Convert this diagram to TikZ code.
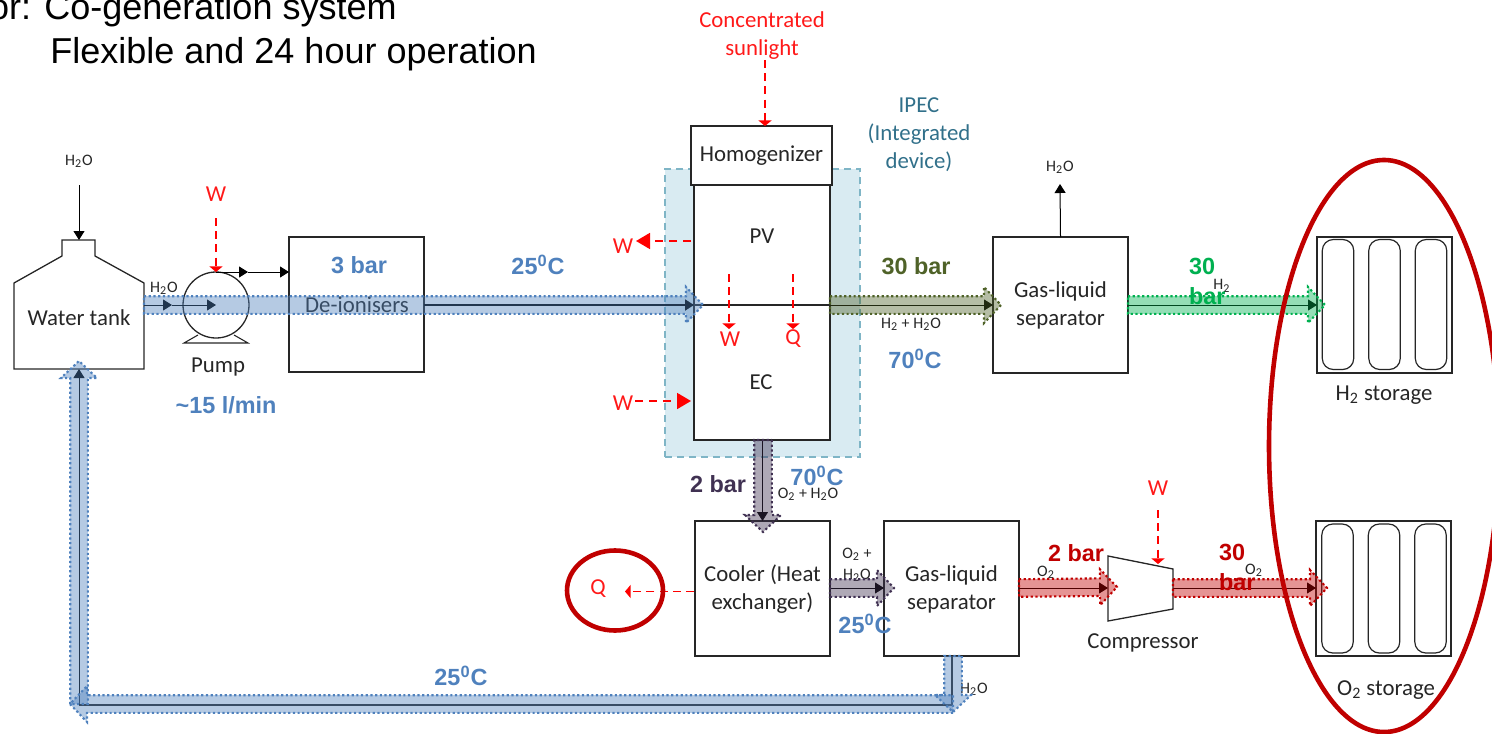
\documentclass[tikz,border=0pt]{standalone}
\usepackage{fontspec}
\setmainfont{Carlito}
\newfontfamily\arialf{Liberation Sans}
\usetikzlibrary{calc,arrows.meta,shapes.geometric}
\definecolor{blueT}{HTML}{4F81BD}
\definecolor{oliveT}{HTML}{4F6228}
\definecolor{greenT}{HTML}{00B050}
\definecolor{purpleT}{HTML}{403152}
\definecolor{redT}{HTML}{C00000}
\definecolor{ipecFill}{HTML}{D9EBF2}
\definecolor{ipecLine}{HTML}{7FB5C6}
\definecolor{ipecText}{HTML}{31708A}
\definecolor{inkT}{HTML}{262626}
\newcommand{\bandarrow}[3]{%
  \coordinate (neck) at ($(#3)!8.5pt!(#2)$);
  \draw[line width=1.05pt,dash pattern=on 1.1pt off 1.25pt,draw=#1,fill=#1,fill opacity=.42]
    ($(#2)!4.4pt!90:(#3)$) -- ($(neck)!4.4pt!90:(#3)$) -- ($(neck)!9pt!90:(#3)$) -- (#3)
    -- ($(neck)!9pt!-90:(#3)$) -- ($(neck)!4.4pt!-90:(#3)$) -- ($(#2)!4.4pt!-90:(#3)$) -- cycle;}
\tikzset{
  lab/.style={inner sep=0pt,outer sep=0pt,text=inkT,font=\fontsize{11.4}{14}\selectfont,align=center},
  small/.style={inner sep=0pt,outer sep=0pt,text=inkT,font=\fontsize{8}{10.5}\selectfont,align=center},
  redlab/.style={inner sep=0pt,outer sep=0pt,text=red!90!white,font=\fontsize{11.4}{14}\selectfont,align=center},
  bold/.style={inner sep=0pt,outer sep=0pt,font=\arialf\bfseries\fontsize{11.7}{15}\selectfont,align=left},
  box/.style={draw=inkT,line width=.65pt,fill=white,inner sep=0pt,outer sep=0pt},
  cyl/.style={draw=inkT,line width=.6pt,rounded corners=5.5pt,inner sep=0pt,outer sep=0pt,minimum width=15.7pt},
  flow/.style={draw=black,line width=.5pt,-{Triangle[length=4.5pt,width=5.5pt]}},
  plain/.style={draw=inkT,line width=.55pt},
  work/.style={draw=red,line width=.7pt,dash pattern=on 4pt off 2.6pt,-{Triangle[length=2.8pt,width=6.5pt]}},
  workB/.style={draw=red,line width=.9pt,dash pattern=on 4pt off 3pt,-{Triangle[length=7pt,width=8pt]}},
  ring/.style={draw=redT,line width=2.3pt}
}
\begin{document}
\begin{tikzpicture}[x=0.5pt,y=-0.5pt]
\useasboundingbox (0,0) rectangle (1492,733);
\clip (0,0) rectangle (1492,733);
% header text
\node[anchor=base east,inner sep=0pt,font=\arialf\fontsize{18}{20}\selectfont] (head1) at (397,20) {or: Co-generation system};
\node[anchor=base west,inner sep=0pt,font=\arialf\fontsize{18}{20}\selectfont] (head2) at (50,63.5) {Flexible and 24 hour operation};
% IPEC background
\node[draw=ipecLine,fill=ipecFill,dash pattern=on 3.5pt off 2.5pt,line width=.55pt,minimum width=97.5pt,minimum height=144pt,inner sep=0pt] (ipec) at (762.5,313) {};
\node[lab,text=ipecText] (ipect) at (919,135) {IPEC\\(Integrated\\device)};
% boxes
\node[box,minimum width=68pt,minimum height=127.5pt] (cell) at (762,312.5) {};
\node[box,minimum width=70.5pt,minimum height=29.5pt] (homog) at (761.5,155.5) {};
\node[lab] (homogt) at (761.5,156) {Homogenizer};
\node[lab] (pv) at (762,236) {PV};
\node[lab] (ec) at (761,382) {EC};
\node[box,minimum width=67.5pt,minimum height=67.5pt] (dei) at (356.5,304.5) {};
\node[lab] (deit) at (357,305) {De-ionisers};
\node[box,minimum width=67.5pt,minimum height=68pt] (sep1) at (1060.5,305) {};
\node[lab] (sep1t) at (1060.5,305.5) {Gas-liquid\\separator};
\node[box,minimum width=67.5pt,minimum height=67.5pt] (cooler) at (762.5,588.5) {};
\node[lab] (coolert) at (762.5,589.5) {Cooler (Heat\\exchanger)};
\node[box,minimum width=67.5pt,minimum height=67.5pt] (sep2) at (951.5,588.5) {};
\node[lab] (sep2t) at (951.5,589.5) {Gas-liquid\\separator};
\node[box,minimum width=67.5pt,minimum height=68pt] (hstore) at (1384.5,305) {};
\node[box,minimum width=67.5pt,minimum height=67.5pt] (ostore) at (1383.5,588.5) {};
\foreach \n/\cx in {ha/1338,hb/1384.5,hc/1431}{\node[cyl,minimum height=65pt] (\n) at (\cx,304.5) {};}
\foreach \n/\cx in {oa/1337.5,ob/1384,oc/1430.5}{\node[cyl,minimum height=64.5pt] (\n) at (\cx,588.5) {};}
\node[lab] (hstoret) at (1384,395) {H\textsubscript{2} storage};
\node[lab] (ostoret) at (1386,690) {O\textsubscript{2} storage};
% water tank
\coordinate (tA) at (14,369); \coordinate (tB) at (14,283); \coordinate (tC) at (62,256);
\coordinate (tD) at (62,240); \coordinate (tE) at (95,240); \coordinate (tF) at (95,256);
\coordinate (tG) at (144,283); \coordinate (tH) at (144,369);
\draw[plain,line width=.65pt] (tA) -- (tB) -- (tC) -- (tD) -- (tE) -- (tF) -- (tG) -- (tH) -- cycle;
\node[lab] (tank) at (79,318) {Water tank};
% pump
\node[draw=inkT,line width=.65pt,circle,minimum size=33pt,inner sep=0pt,outer sep=0pt] (pump) at (216,305) {};
\coordinate (pA) at (198,335); \coordinate (pB) at (184,343); \coordinate (pC) at (248,343); \coordinate (pD) at (234,335);
\draw[plain] (pA) -- (pB) -- (pC) -- (pD);
\node[lab] (pumpt) at (218,367) {Pump};
% compressor
\coordinate (cA) at (1108,556); \coordinate (cB) at (1173,569); \coordinate (cC) at (1173,609); \coordinate (cD) at (1108,621);
\draw[plain,line width=.65pt] (cA) -- (cB) -- (cC) -- (cD) -- cycle;
\node[lab] (compt) at (1143,643) {Compressor};
% free ends
\coordinate (tankIn) at (79,185); \coordinate (tankR) at (144,305);
\coordinate (tankRm) at (172,305); \coordinate (pumpC) at (216,305);
\coordinate (pumpMid) at (248,272);
\coordinate (cellL) at (694,305); \coordinate (cellR) at (830,305); \coordinate (sep1L) at (993,305);
\coordinate (deiR) at (424,305); \coordinate (sep1R) at (1128,305); \coordinate (hsL) at (1317,305);
\coordinate (sep1Up) at (1060,184);
\coordinate (sep2B) at (952,656); \coordinate (corner) at (952,705); \coordinate (cornerL) at (79,705);
\coordinate (tankB) at (79,369);
\coordinate (coolR) at (830,588); \coordinate (sep2L) at (884,588);
\coordinate (sep2R) at (1019,588); \coordinate (compL) at (1108,588); \coordinate (compR) at (1173,588); \coordinate (osL) at (1316,588);
% black connectors
\draw[flow] (tankIn) -- (tE -| tankIn);
\draw[flow] (tankR) -- (tankRm);
\draw[flow] (tankRm) -- (pumpC);
\draw[flow] (pump.north) -- (pumpMid);
\draw[flow] (pumpMid) -- (pumpMid -| dei.west);
\draw[flow,line width=.9pt] (deiR) -- (cellL);
\draw[plain] (cellL) -- (cellR);
\draw[flow] (cellR) -- (sep1L);
\draw[flow] (sep1.north) -- (sep1Up);
\draw[flow] (sep1R) -- (hsL);
\draw[flow] (cell.south -| cooler.north) -- (cooler.north);
\draw[flow] (coolR) -- (sep2L);
\draw[flow] (sep2R) -- (compL);
\draw[flow] (compR) -- (osL);
\draw[plain,line width=.7pt] (sep2B) -- (corner) -- (cornerL);
\draw[flow] (cornerL) -- (tankB);
% small labels
\node[small] (l1) at (79,161) {H\textsubscript{2}O};
\node[small] (l2) at (164,288) {H\textsubscript{2}O};
\node[small] (l3) at (1060,167) {H\textsubscript{2}O};
\node[small] (l4) at (911,324) {H\textsubscript{2} + H\textsubscript{2}O};
\node[small] (l5) at (1222,286) {H\textsubscript{2}};
\node[small] (l6) at (808,494) {O\textsubscript{2} + H\textsubscript{2}O};
\node[small] (l7) at (857,565) {O\textsubscript{2} +\\H\textsubscript{2}O};
\node[small] (l8) at (974,689) {H\textsubscript{2}O};
\node[small] (l9) at (1046,572) {O\textsubscript{2}};
\node[small] (l10) at (1254,570) {O\textsubscript{2}};
% red labels and work arrows
\node[redlab] (sun) at (762,36) {Concentrated\\sunlight};
\coordinate (sunE) at (765,60);
\draw[work] (sunE) -- (sunE |- homog.north);
\node[redlab] (w1) at (216,194) {W};
\coordinate (w1s) at (216,218);
\draw[work] (w1s) -- (pump.north);
\node[redlab] (w2) at (623,246) {W};
\coordinate (w2s) at (691,241); \coordinate (w2e) at (636,241);
\draw[workB] (w2s) -- (w2e);
\node[redlab] (w3) at (623,403) {W};
\coordinate (w3s) at (635,401); \coordinate (w3e) at (691,401);
\draw[workB] (w3s) -- (w3e);
\node[redlab] (w4) at (730,339) {W};
\coordinate (w4s) at (729,274); \coordinate (w4e) at (729,329);
\draw[work] (w4s) -- (w4e);
\node[redlab] (q1) at (793,339) {Q};
\coordinate (q1s) at (793,274); \coordinate (q1e) at (793,329);
\draw[work] (q1s) -- (q1e);
\node[redlab] (w5) at (1158,488) {W};
\coordinate (w5s) at (1158,510); \coordinate (w5e) at (1158,564);
\draw[work] (w5s) -- (w5e);
\node[redlab] (q2) at (598,589) {Q};
\coordinate (q2s) at (694,591.5); \coordinate (q2e) at (625,591.5);
\draw[work] (q2s) -- (q2e);
% band arrows
\coordinate (tipB1) at (703,305); \bandarrow{blueT}{tankR}{tipB1}
\coordinate (tipO) at (1001,305); \bandarrow{oliveT}{cellR}{tipO}
\coordinate (tipG) at (1325,305); \bandarrow{greenT}{sep1R}{tipG}
\coordinate (cellS) at (763,440); \coordinate (tipP1) at (763,532); \bandarrow{purpleT}{cellS}{tipP1}
\coordinate (tipP2) at (894,588); \bandarrow{purpleT}{coolR}{tipP2}
\coordinate (tipR1) at (1117,587); \bandarrow{redT}{sep2R}{tipR1}
\coordinate (tipR2) at (1327,588); \bandarrow{redT}{compR}{tipR2}
\coordinate (dTop) at (953,656); \coordinate (dTip) at (953,712); \bandarrow{blueT}{dTop}{dTip}
\coordinate (hR) at (953,704); \coordinate (hTip) at (70,704); \bandarrow{blueT}{hR}{hTip}
\coordinate (vB) at (79,704); \coordinate (vTip) at (79,361); \bandarrow{blueT}{vB}{vTip}
% bold labels
\node[bold,text=blueT] (b1) at (359,265) {3 bar};
\node[bold,text=blueT] (b2) at (538,265) {25\textsuperscript{0}C};
\node[bold,text=blueT] (b3) at (226,405) {\textasciitilde 15 l/min};
\node[bold,text=oliveT] (b4) at (916,266) {30 bar};
\node[bold,text=blueT] (b5) at (915,359) {70\textsuperscript{0}C};
\node[bold,text=greenT,anchor=west] (b6) at (1189,281) {30\\bar};
\node[bold,text=purpleT] (b7) at (718,484) {2 bar};
\node[bold,text=blueT] (b8) at (817,476) {70\textsuperscript{0}C};
\node[bold,text=blueT] (b9) at (865,624) {25\textsuperscript{0}C};
\node[bold,text=blueT] (b10) at (461,676) {25\textsuperscript{0}C};
\node[bold,text=redT] (b11) at (1076,553) {2 bar};
\node[bold,text=redT,anchor=west] (b12) at (1219,567) {30\\bar};
% highlight rings
\node[ring,ellipse,minimum width=115pt,minimum height=286pt,inner sep=0pt] (ringS) at (1384,446) {};
\node[ring,ellipse,minimum width=48pt,minimum height=40pt,inner sep=0pt] (ringQ) at (615,590.5) {};
\end{tikzpicture}
\end{document}
